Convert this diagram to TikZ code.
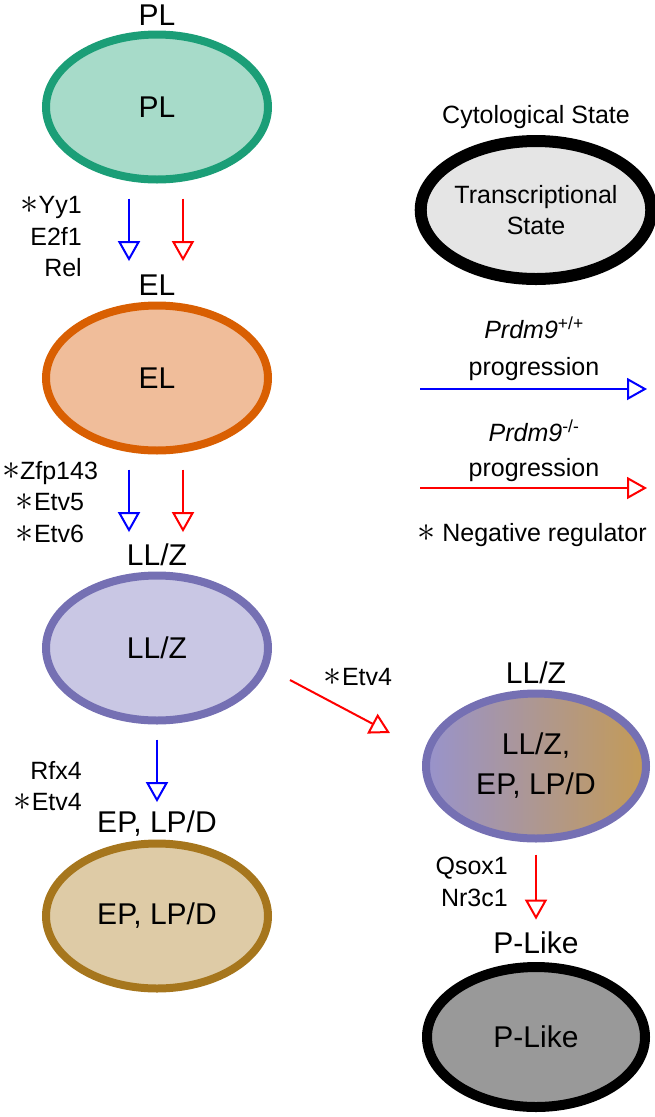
\documentclass[tikz,border=0pt]{standalone}
\usepackage{fontspec}
\setmainfont{Liberation Sans}
\usepackage{tikz}
\usetikzlibrary{shapes.geometric,arrows.meta,positioning}

\definecolor{plline}{HTML}{1B9E77}
\definecolor{plfill}{HTML}{A7DBC9}
\definecolor{elline}{HTML}{D95F02}
\definecolor{elfill}{HTML}{F0BD9A}
\definecolor{llzline}{HTML}{7570B3}
\definecolor{llzfill}{HTML}{C9C7E4}
\definecolor{eplline}{HTML}{A6761D}
\definecolor{eplfill}{HTML}{DECBA6}
\definecolor{mixleft}{HTML}{9893CC}
\definecolor{mixright}{HTML}{C49B56}
\definecolor{plikefill}{HTML}{999999}
\definecolor{keyfill}{HTML}{E5E5E5}
\newcommand\negmark{\scalebox{1.45}{$\ast$}}

\begin{document}
\begin{tikzpicture}[x=1pt,y=-1pt,
	state/.style={ellipse, draw, line width=8pt, minimum width=222pt, minimum height=145pt, inner sep=0pt, align=center, font=\fontsize{30}{40}\selectfont},
	title/.style={inner sep=0pt, text height=22pt, text depth=0pt, font=\fontsize{30}{36}\selectfont},
	gene/.style={inner sep=0pt, font=\fontsize{25}{31.5}\selectfont},
	wt/.style={blue, line width=2pt, -{Triangle[open,length=20pt,width=22pt]}},
	ko/.style={red, line width=2pt, -{Triangle[open,length=20pt,width=22pt]}}]
\useasboundingbox (0,0) rectangle (654,1117);

% left column, wild type path
\node [state, draw=plline, fill=plfill] (pl) at (157,107) {PL};
\node [title, above=5pt of pl] (pltitle) {PL};
\node [state, draw=elline, fill=elfill] (el) at (157,378) {EL};
\node [title, above=6pt of el] (eltitle) {EL};
\node [state, draw=llzline, fill=llzfill] (llz) at (157,648) {LL/Z};
\node [title, above=6pt of llz] (llztitle) {LL/Z};
\node [state, draw=eplline, fill=eplfill] (epl) at (157,916) {EP, LP/D};
\node [title, above=7pt of epl] (epltitle) {EP, LP/D};

% right column, Prdm9 -/- path
\node [state, draw=llzline, line width=8pt, left color=mixleft, right color=mixright, minimum width=220pt] (mix) at (536,766) {LL/Z,\\EP, LP/D};
\node [title, above=6pt of mix] (mixtitle) {LL/Z};
\node [state, draw=black, fill=plikefill, line width=10pt, minimum width=218pt, minimum height=140pt] (plike) at (536,1037) {P-Like};
\node [title, above=8pt of plike] (pliketitle) {P-Like};

% key
\node [state, draw=black, fill=keyfill, line width=12pt, minimum width=216pt, minimum height=138pt, font=\fontsize{25}{31}\selectfont] (key) at (536,210) {Transcriptional\\State};
\node [gene, text height=18pt, text depth=0pt, above=11pt of key] (keytitle) {Cytological State};
\node [gene, align=center, font=\fontsize{25}{37}\selectfont] (wtlbl) at (534,349) {\textit{Prdm9}\textsuperscript{+/+}\\progression};
\node [gene, align=center, font=\fontsize{25}{35}\selectfont] (kolbl) at (534,451) {\textit{Prdm9}\textsuperscript{-/-}\\progression};
\coordinate (wta) at (420,389);
\coordinate (wtb) at (647,389);
\coordinate (koa) at (420,488);
\coordinate (kob) at (647,488);
\draw [wt] (wta) -- (wtb);
\draw [ko] (koa) -- (kob);
\node [gene] (neg) at (532,535) {\negmark{} Negative regulator};

% regulators
\node [gene, align=right, anchor=east] (g1) at (82,237) {\negmark Yy1\\E2f1\\Rel};
\node [gene, align=center] (g2) at (50,502) {\negmark Zfp143\\\negmark Etv5\\\negmark Etv6};
\node [gene, align=right, anchor=east] (g3) at (82,786) {Rfx4\\\negmark Etv4};
\node [gene] (g4) at (358,677) {\negmark Etv4};
\node [gene, align=right, anchor=east] (g5) at (508,882) {Qsox1\\Nr3c1};

% transitions
\draw [wt] ([xshift=-28pt,yshift=-15pt]pl.south) -- ([xshift=-28pt,yshift=12pt]eltitle.north);
\draw [ko] ([xshift=26pt,yshift=-15pt]pl.south) -- ([xshift=26pt,yshift=12pt]eltitle.north);
\draw [wt] ([xshift=-28pt,yshift=-15pt]el.south) -- ([xshift=-28pt,yshift=11pt]llztitle.north);
\draw [ko] ([xshift=26pt,yshift=-15pt]el.south) -- ([xshift=26pt,yshift=11pt]llztitle.north);
\draw [wt] ([yshift=-15pt]llz.south) -- ([yshift=8pt]epltitle.north);
\draw [ko] ([xshift=18pt,yshift=-32pt]llz.east) -- ([xshift=-32pt,yshift=33pt]mix.west);
\draw [ko] ([yshift=-12pt]mix.south) -- ([yshift=12pt]pliketitle.north);
\end{tikzpicture}
\end{document}
